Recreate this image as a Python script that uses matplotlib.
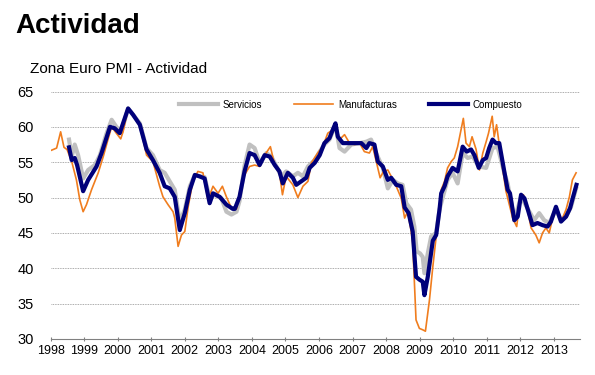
import numpy as np
import matplotlib
matplotlib.use('Agg')
from matplotlib import pyplot as plt

plt.rcParams['font.family'] = ['Liberation Sans', 'DejaVu Sans']

# decimal year, index value
serv_t = [1998.55, 1998.63, 1998.72, 1998.82, 1998.97, 1999.12, 1999.32, 1999.47, 1999.67, 1999.82,
          1999.96, 2000.11, 2000.31, 2000.66, 2000.86, 2001.05, 2001.25, 2001.40, 2001.55, 2001.70,
          2001.85, 2002.00, 2002.15, 2002.30, 2002.44, 2002.59, 2002.74, 2002.89, 2003.09, 2003.24,
          2003.39, 2003.54, 2003.63, 2003.78, 2003.93, 2004.08, 2004.23, 2004.43, 2004.58, 2004.73,
          2004.88, 2005.02, 2005.22, 2005.37, 2005.52, 2005.67, 2005.87, 2006.02, 2006.16, 2006.31,
          2006.49, 2006.61, 2006.76, 2006.96, 2007.21, 2007.41, 2007.55, 2007.70, 2007.90, 2008.05,
          2008.20, 2008.35, 2008.49, 2008.60, 2008.74, 2008.84, 2008.91, 2009.01, 2009.09, 2009.14,
          2009.24, 2009.34, 2009.49, 2009.59, 2009.69, 2009.83, 2009.98, 2010.13, 2010.28, 2010.43,
          2010.58, 2010.76, 2010.98, 2011.17, 2011.32, 2011.52, 2011.62, 2011.82, 2012.02, 2012.27,
          2012.41, 2012.56, 2012.71, 2012.86, 2013.06, 2013.21, 2013.36, 2013.51, 2013.66]
serv_v = [58.2, 55.8, 57.5, 56.0, 52.7, 53.9, 54.6, 56.0, 59.1, 61.0,
          60.0, 59.3, 62.6, 60.5, 57.0, 56.0, 53.9, 53.5, 52.3, 51.1,
          46.6, 48.3, 51.6, 53.2, 53.0, 52.9, 49.9, 50.4, 49.9, 48.0,
          47.6, 48.0, 49.5, 54.5, 57.5, 57.0, 54.9, 56.3, 55.8, 54.4,
          53.0, 53.7, 53.0, 53.5, 53.0, 54.4, 55.3, 56.5, 57.5, 58.2,
          60.3, 57.0, 56.5, 57.5, 57.7, 57.9, 58.2, 56.3, 54.2, 51.3,
          52.5, 52.0, 51.8, 49.2, 48.3, 45.9, 42.4, 42.1, 41.6, 39.3,
          42.1, 44.5, 45.0, 48.3, 50.1, 52.5, 53.5, 52.0, 56.3, 55.6,
          55.8, 54.4, 54.2, 57.0, 57.2, 53.5, 52.0, 46.8, 50.1, 48.0,
          46.8, 47.8, 46.8, 46.4, 48.3, 46.8, 47.3, 48.7, 51.3]

manu_t = [1998.03, 1998.18, 1998.30, 1998.40, 1998.49, 1998.63, 1998.77, 1998.87, 1998.97, 1999.07,
          1999.22, 1999.42, 1999.57, 1999.71, 1999.82, 1999.96, 2000.09, 2000.16, 2000.31, 2000.66,
          2000.86, 2001.05, 2001.25, 2001.35, 2001.50, 2001.65, 2001.70, 2001.80, 2001.90, 2002.00,
          2002.10, 2002.24, 2002.39, 2002.54, 2002.69, 2002.84, 2002.99, 2003.12, 2003.24, 2003.39,
          2003.54, 2003.63, 2003.78, 2003.93, 2004.08, 2004.23, 2004.38, 2004.55, 2004.68, 2004.82,
          2004.91, 2005.02, 2005.22, 2005.37, 2005.52, 2005.67, 2005.77, 2005.96, 2006.11, 2006.26,
          2006.41, 2006.49, 2006.61, 2006.76, 2006.91, 2007.06, 2007.21, 2007.35, 2007.50, 2007.60,
          2007.75, 2007.82, 2007.92, 2008.05, 2008.15, 2008.30, 2008.45, 2008.55, 2008.64, 2008.74,
          2008.79, 2008.89, 2008.99, 2009.09, 2009.17, 2009.29, 2009.39, 2009.54, 2009.64, 2009.74,
          2009.83, 2009.94, 2010.03, 2010.13, 2010.23, 2010.30, 2010.38, 2010.48, 2010.56, 2010.68,
          2010.78, 2010.88, 2010.98, 2011.05, 2011.16, 2011.22, 2011.29, 2011.39, 2011.47, 2011.57,
          2011.67, 2011.77, 2011.89, 2011.99, 2012.09, 2012.21, 2012.32, 2012.46, 2012.56, 2012.66,
          2012.76, 2012.86, 2012.96, 2013.06, 2013.21, 2013.36, 2013.46, 2013.55, 2013.66]
manu_v = [56.7, 57.0, 59.3, 57.1, 56.8, 55.1, 52.5, 49.7, 48.0, 49.0,
          51.1, 53.5, 55.8, 58.2, 60.0, 59.1, 58.3, 59.3, 62.6, 60.3,
          56.0, 55.1, 51.6, 50.1, 49.0, 48.0, 47.1, 43.1, 44.7, 45.2,
          48.7, 52.3, 53.7, 53.5, 49.7, 51.6, 50.6, 51.6, 50.1, 48.5,
          48.4, 50.6, 53.2, 54.4, 54.6, 54.4, 56.0, 57.2, 54.6, 53.5,
          50.4, 53.0, 51.8, 50.0, 51.6, 52.3, 54.9, 56.3, 57.2, 59.1,
          59.6, 60.5, 58.2, 58.9, 57.7, 57.5, 57.7, 56.5, 56.3, 57.2,
          54.2, 52.8, 53.7, 53.9, 53.0, 51.6, 49.9, 47.1, 48.0, 45.4,
          43.6, 32.7, 31.5, 31.3, 31.1, 35.5, 40.2, 46.6, 51.1, 52.3,
          54.2, 55.1, 55.6, 57.2, 59.6, 61.2, 57.7, 57.2, 58.6, 56.8,
          53.9, 56.3, 57.9, 59.1, 61.5, 58.6, 60.3, 56.8, 54.2, 50.9,
          49.0, 47.1, 45.9, 49.9, 50.4, 48.3, 45.7, 44.7, 43.6, 45.0,
          45.7, 45.0, 47.1, 48.5, 46.6, 48.3, 50.1, 52.5, 53.5]

comp_t = [1998.55, 1998.63, 1998.72, 1998.79, 1998.97, 1999.12, 1999.37, 1999.52, 1999.77, 1999.91,
          2000.06, 2000.31, 2000.46, 2000.66, 2000.86, 2001.05, 2001.25, 2001.40, 2001.55, 2001.70,
          2001.85, 2002.00, 2002.15, 2002.30, 2002.44, 2002.59, 2002.74, 2002.84, 2003.04, 2003.24,
          2003.43, 2003.49, 2003.63, 2003.78, 2003.93, 2004.08, 2004.23, 2004.38, 2004.53, 2004.68,
          2004.82, 2004.92, 2005.07, 2005.22, 2005.32, 2005.47, 2005.62, 2005.72, 2005.87, 2006.02,
          2006.16, 2006.31, 2006.41, 2006.49, 2006.56, 2006.71, 2006.91, 2007.11, 2007.26, 2007.41,
          2007.50, 2007.65, 2007.75, 2007.90, 2008.05, 2008.15, 2008.30, 2008.45, 2008.55, 2008.67,
          2008.79, 2008.89, 2008.99, 2009.09, 2009.14, 2009.24, 2009.39, 2009.49, 2009.59, 2009.64,
          2009.74, 2009.83, 2009.98, 2010.13, 2010.28, 2010.40, 2010.53, 2010.63, 2010.76, 2010.88,
          2010.98, 2011.07, 2011.17, 2011.27, 2011.37, 2011.52, 2011.62, 2011.69, 2011.82, 2011.92,
          2012.02, 2012.12, 2012.24, 2012.36, 2012.51, 2012.66, 2012.81, 2012.91, 2013.06, 2013.21,
          2013.36, 2013.48, 2013.57, 2013.67]
comp_v = [57.1, 55.3, 55.6, 54.6, 50.9, 52.5, 54.4, 56.3, 60.0, 59.8,
          59.1, 62.6, 61.7, 60.3, 56.8, 55.3, 53.5, 51.6, 51.3, 50.1,
          45.4, 47.8, 51.1, 53.2, 53.0, 52.7, 49.2, 50.6, 50.1, 49.0,
          48.4, 48.4, 50.1, 53.7, 56.3, 56.0, 54.6, 56.0, 55.8, 54.6,
          53.7, 52.0, 53.5, 52.8, 51.8, 52.3, 52.8, 54.2, 54.9, 56.0,
          57.7, 58.4, 59.6, 60.5, 58.6, 57.7, 57.7, 57.7, 57.7, 57.0,
          57.7, 57.5, 55.1, 54.4, 52.5, 52.8, 51.8, 51.6, 48.6, 47.8,
          45.2, 38.8, 38.4, 38.1, 36.2, 38.8, 43.9, 44.7, 48.3, 50.6,
          51.6, 53.0, 54.2, 53.7, 57.2, 56.5, 56.8, 56.0, 54.2, 55.3,
          55.6, 57.0, 58.2, 57.7, 57.7, 53.7, 51.1, 50.6, 46.8, 47.3,
          50.4, 49.9, 48.0, 46.1, 46.4, 46.1, 45.9, 46.6, 48.7, 46.6,
          47.3, 48.5, 50.1, 51.8]

years = list(range(1998, 2014))

fig = plt.figure(figsize=(5.95, 3.75), dpi=100)
ax = fig.add_axes([0.085, 0.096, 0.89, 0.66])

ax.plot(serv_t, serv_v, color='#C0C0C0', lw=3.0, label='Servicios', solid_joinstyle='round')
ax.plot(manu_t, manu_v, color='#F07D1E', lw=1.2, label='Manufacturas')
ax.plot(comp_t, comp_v, color='#00007A', lw=3.0, label='Compuesto', solid_joinstyle='round')

ax.set_ylim(30, 65)
ax.set_xlim(1998, 2013.78)
ax.set_yticks(range(30, 70, 5))
ax.set_xticks(years)
ax.set_xticklabels([str(y) for y in years])
ax.grid(axis='y', color='#909090', linestyle=(0, (1, 1)), lw=0.6)
ax.set_axisbelow(True)
for s in ['top', 'right', 'left']:
    ax.spines[s].set_visible(False)
ax.spines['bottom'].set_color('#808080')
ax.spines['bottom'].set_linewidth(0.8)
ax.tick_params(axis='y', length=0, pad=12, labelsize=10.5)
ax.tick_params(axis='x', length=3, direction='inout', color='#808080', pad=3, labelsize=9)

ax.legend(loc='center', bbox_to_anchor=(0.567, 0.946), ncol=3, frameon=False,
          fontsize=7, handlelength=4, handletextpad=0.5, columnspacing=3.3)

fig.text(0.025, 1 - 13 / 375, 'Actividad', fontsize=20, weight='bold', va='top')
fig.text(0.05, 1 - 62 / 375, 'Zona Euro PMI - Actividad', fontsize=11, va='top')

fig.savefig('out.png', dpi=100)
